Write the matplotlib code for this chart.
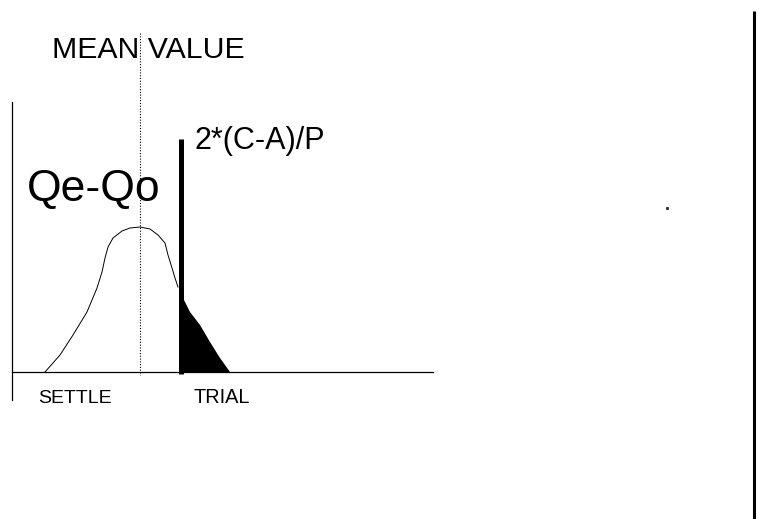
import matplotlib
matplotlib.use('Agg')
import matplotlib.pyplot as plt

# 画布坐标（像素单位，y 向下）
W, H = 759, 519

# 分布曲线
curve_x = [45, 60, 73, 87, 97, 102, 105, 108, 113, 122, 130, 140, 150, 158, 165, 168, 172, 175, 178]
curve_y = [372, 355, 335, 312, 288, 272, 258, 247, 238, 231, 228, 227, 229, 235, 243, 255, 268, 278, 287]

# 阴影尾部
tail_x = [183, 190, 200, 210, 220, 230]
tail_y = [298, 312, 325, 342, 358, 372]

# 轴线和标记
y_axis_x, y_axis_top, y_axis_bottom = 12, 102, 400
x_axis_y, x_axis_left, x_axis_right = 372, 12, 433
mean_x, mean_top = 140, 33
bar_x, bar_top, bar_bottom = 180.5, 139, 374
right_x = 754

fig = plt.figure(figsize=(W / 100, H / 100), dpi=100)
ax = fig.add_axes([0, 0, 1, 1])
ax.set_xlim(0, W)
ax.set_ylim(H, 0)
ax.axis('off')

plt.rcParams['font.family'] = ['Liberation Sans', 'DejaVu Sans']

# 坐标轴
ax.plot([y_axis_x, y_axis_x], [y_axis_top, y_axis_bottom], color='black', lw=0.9)
ax.plot([x_axis_left, x_axis_right], [x_axis_y, x_axis_y], color='black', lw=0.9)

# 均值虚线
ax.plot([mean_x, mean_x], [mean_top, x_axis_y + 3], color='black', lw=0.8, ls=(0, (1, 1.5)))

# 曲线
ax.plot(curve_x, curve_y, color='black', lw=0.7)

# 尾部填充
fx = [bar_x] + tail_x + [bar_x]
fy = [tail_y[0]] + tail_y + [x_axis_y]
ax.fill(fx, fy, color='black', lw=0)

# 粗竖线
ax.plot([bar_x, bar_x], [bar_top, bar_bottom], color='black', lw=3.6, solid_capstyle='butt')

# 右侧竖线
ax.plot([right_x, right_x], [11, H], color='black', lw=2.2, solid_capstyle='butt')

# 小点
ax.plot([667], [208], marker='s', ms=1.2, color='#333333', lw=0)

# 文字
ax.text(52, 58, 'MEAN VALUE', fontsize=21.8, ha='left', va='baseline')
ax.text(195, 149, '2*(C-A)/P', fontsize=22, ha='left', va='baseline')
ax.text(27, 201, 'Qe-Qo', fontsize=32, ha='left', va='baseline')
ax.text(38, 403, 'SETTLE', fontsize=14, ha='left', va='baseline')
ax.text(194, 403, 'TRIAL', fontsize=14.3, ha='left', va='baseline')

fig.savefig('out.png', dpi=100)
